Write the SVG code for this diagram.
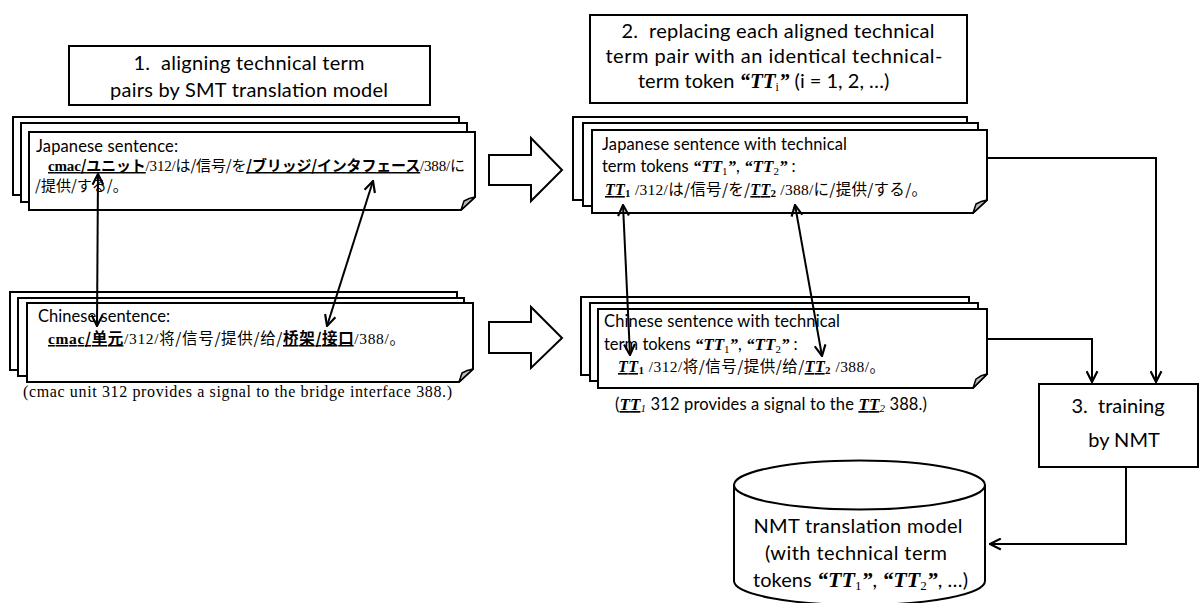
<svg xmlns="http://www.w3.org/2000/svg" width="1203" height="603" viewBox="0 0 1203 603">
  <style>
    .box { fill: #fff; stroke: #000; stroke-width: 2; }
    .pg { fill: #fff; stroke: #000; stroke-width: 2; }
    .fold { fill: #bdbdbd; stroke: #000; stroke-width: 1.5; stroke-linejoin: round; }
    .ln { fill: none; stroke: #000; stroke-width: 2; }
    .blk { fill: #fff; stroke: #000; stroke-width: 2; stroke-linejoin: miter; }
    text { fill: #000; }
    .c { font-family: Lato, 'Liberation Sans', sans-serif; }
    .t { font-family: 'Liberation Serif', serif; }
    .tt { font-family: 'Liberation Serif', serif; font-weight: bold; font-style: italic; }
    .j { font-family: 'Noto Sans CJK JP', sans-serif; }
    .zh { font-family: 'Noto Sans CJK SC', sans-serif; }
    .b { font-weight: bold; }
    .u { text-decoration: underline; }
    .mid { text-anchor: middle; }
  </style>
  <defs>
    <marker id="ah" viewBox="0 0 12 12" refX="11" refY="6" markerWidth="13" markerHeight="13" markerUnits="userSpaceOnUse" orient="auto-start-reverse">
      <path d="M1,1 L11,6 L1,11" fill="none" stroke="#000" stroke-width="2"/>
    </marker>
  </defs>

  <!-- step 1 label -->
  <g id="step1">
    <rect class="box" x="69" y="46" width="361" height="59"/>
    <text class="c mid" x="249" y="70" font-size="20" textLength="231">1.&#160; aligning technical term</text>
    <text class="c mid" x="249" y="97" font-size="20" textLength="278">pairs by SMT translation model</text>
  </g>

  <!-- Japanese source sentences -->
  <g id="ja-source">
    <rect class="pg" x="13" y="117" width="446" height="78"/>
    <rect class="pg" x="21" y="123" width="446" height="79"/>
    <path class="pg" d="M29,132 H475 V197 L461,210 H29 Z"/>
    <path class="fold" d="M461,210 L464,201 Q469,198 475,197 Z"/>
    <text class="c" x="36" y="152" font-size="16.5" textLength="142">Japanese sentence:</text>
    <text x="48" y="171" font-size="15" textLength="417"><tspan class="t b u">cmac</tspan><tspan class="j b u">/ユニット</tspan><tspan class="t">/312/</tspan><tspan class="j">は/信号/を</tspan><tspan class="j b u">/ブリッジ/インタフェース</tspan><tspan class="t">/388/</tspan><tspan class="j">に</tspan></text>
    <text class="j" x="35" y="191" font-size="15">/提供/する/。</text>
  </g>

  <!-- Chinese source sentences -->
  <g id="zh-source">
    <rect class="pg" x="10" y="292" width="447" height="78"/>
    <rect class="pg" x="18" y="298" width="446" height="78"/>
    <path class="pg" d="M27,303 H473 V369 L459,382 H27 Z"/>
    <path class="fold" d="M459,382 L462,373 Q467,370 473,369 Z"/>
    <text class="c" x="38" y="322" font-size="16.5" textLength="132">Chinese sentence:</text>
    <text x="48" y="344" font-size="15.5" textLength="357"><tspan class="t b u">cmac</tspan><tspan class="zh b u">/单元</tspan><tspan class="t">/312/</tspan><tspan class="zh">将/信号/提供/给/</tspan><tspan class="zh b u">桥架/接口</tspan><tspan class="t">/388/</tspan><tspan class="zh">。</tspan></text>
  </g>

  <g id="source-gloss">
    <text class="t" x="23" y="397" font-size="16" textLength="429">(cmac unit 312 provides a signal to the bridge interface 388.)</text>
  </g>

  <!-- block arrows between the stages -->
  <g id="block-arrows">
    <polygon class="blk" points="489,155 531,155 531,138 562,170 531,201 531,185 489,185"/>
    <polygon class="blk" points="489,322 531,322 531,307 562,338 531,368 531,353 489,353"/>
  </g>

  <!-- step 2 label -->
  <g id="step2">
    <rect class="box" x="590" y="15" width="377" height="88"/>
    <text class="c mid" x="778" y="38" font-size="20" textLength="313">2.&#160; replacing each aligned technical</text>
    <text class="c mid" x="774" y="63" font-size="20" textLength="337">term pair with an identical technical-</text>
    <text x="638" y="88" font-size="20"><tspan class="c">term token </tspan><tspan class="tt" font-size="21">“TT</tspan><tspan class="t" font-size="12" dy="3">i</tspan><tspan class="tt" font-size="21" dy="-3">”</tspan><tspan class="c"> (i = 1, 2, …)</tspan></text>
  </g>

  <!-- Japanese sentences with tokens -->
  <g id="ja-tokens">
    <rect class="pg" x="573" y="117" width="394" height="83"/>
    <rect class="pg" x="583" y="123" width="395" height="83"/>
    <path class="pg" d="M592,130 H987 V200 L973,213 H592 Z"/>
    <path class="fold" d="M973,213 L976,204 Q981,201 987,200 Z"/>
    <text class="c" x="602" y="150" font-size="16.5" textLength="245">Japanese sentence with technical</text>
    <text x="602" y="172" font-size="16.5"><tspan class="c">term tokens </tspan><tspan class="tt" font-size="17">“TT</tspan><tspan class="t" font-size="11" dy="3">1</tspan><tspan class="tt" font-size="17" dy="-3">”</tspan><tspan class="c">, </tspan><tspan class="tt" font-size="17">“TT</tspan><tspan class="t" font-size="11" dy="3">2</tspan><tspan class="tt" font-size="17" dy="-3">”</tspan><tspan class="c"> :</tspan></text>
    <text x="605" y="195" font-size="15.5" textLength="322"><tspan class="tt u" font-size="16">TT</tspan><tspan class="t b" font-size="11" dy="2">1</tspan><tspan class="t" dy="-2"> /312/</tspan><tspan class="j">は/信号/を/</tspan><tspan class="tt u" font-size="16">TT</tspan><tspan class="t b" font-size="11" dy="2">2</tspan><tspan class="t" dy="-2"> /388/</tspan><tspan class="j">に/提供/する/。</tspan></text>
  </g>

  <!-- Chinese sentences with tokens -->
  <g id="zh-tokens">
    <rect class="pg" x="581" y="297" width="388" height="78"/>
    <rect class="pg" x="590" y="303" width="388" height="78"/>
    <path class="pg" d="M598,309 H987 V374 L973,388 H598 Z"/>
    <path class="fold" d="M973,388 L976,379 Q981,375 987,374 Z"/>
    <text class="c" x="604" y="327" font-size="16.5" textLength="236">Chinese sentence with technical</text>
    <text x="604" y="350" font-size="16.5"><tspan class="c">term tokens </tspan><tspan class="tt" font-size="17">“TT</tspan><tspan class="t" font-size="11" dy="3">1</tspan><tspan class="tt" font-size="17" dy="-3">”</tspan><tspan class="c">, </tspan><tspan class="tt" font-size="17">“TT</tspan><tspan class="t" font-size="11" dy="3">2</tspan><tspan class="tt" font-size="17" dy="-3">”</tspan><tspan class="c"> :</tspan></text>
    <text x="618" y="372" font-size="15.5" textLength="267"><tspan class="tt u" font-size="16">TT</tspan><tspan class="t b" font-size="11" dy="2">1</tspan><tspan class="t" dy="-2"> /312/</tspan><tspan class="zh">将/信号/提供/给/</tspan><tspan class="tt u" font-size="16">TT</tspan><tspan class="t b" font-size="11" dy="2">2</tspan><tspan class="t" dy="-2"> /388/</tspan><tspan class="zh">。</tspan></text>
  </g>

  <g id="token-gloss">
    <text x="615" y="410" font-size="16.5" textLength="312"><tspan class="c">(</tspan><tspan class="tt u" font-size="17">TT</tspan><tspan class="t" font-style="italic" font-size="11" dy="2">1</tspan><tspan class="c" dy="-2"> 312 provides a signal to the </tspan><tspan class="tt u" font-size="17">TT</tspan><tspan class="t" font-style="italic" font-size="11" dy="2">2</tspan><tspan class="c" dy="-2"> 388.)</tspan></text>
  </g>

  <!-- step 3 -->
  <g id="step3">
    <rect class="box" x="1039" y="384" width="159" height="83"/>
    <text class="c mid" x="1118" y="413" font-size="20">3.&#160; training</text>
    <text class="c mid" x="1124" y="447" font-size="20">by NMT</text>
  </g>

  <!-- resulting model -->
  <g id="nmt-model">
    <path class="box" d="M734,485 V581 A125.5,24 0 0 0 985,581 V485"/>
    <ellipse class="box" cx="859.5" cy="485" rx="125.5" ry="24.5"/>
    <text class="c mid" x="858" y="533" font-size="20" textLength="209">NMT translation model</text>
    <text class="c mid" x="856" y="560" font-size="20" textLength="182">(with technical term</text>
    <text x="753" y="587" font-size="20" textLength="215"><tspan class="c">tokens </tspan><tspan class="tt" font-size="22">“TT</tspan><tspan class="t" font-size="13" dy="3">1</tspan><tspan class="tt" font-size="22" dy="-3">”</tspan><tspan class="c">, </tspan><tspan class="tt" font-size="22">“TT</tspan><tspan class="t" font-size="13" dy="3">2</tspan><tspan class="tt" font-size="22" dy="-3">”</tspan><tspan class="c">, …)</tspan></text>
  </g>

  <!-- connectors -->
  <g id="connectors">
    <line class="ln" x1="98" y1="174" x2="97" y2="326" marker-start="url(#ah)" marker-end="url(#ah)"/>
    <line class="ln" x1="373" y1="181" x2="327" y2="326" marker-start="url(#ah)" marker-end="url(#ah)"/>
    <line class="ln" x1="623" y1="205" x2="630" y2="355" marker-start="url(#ah)" marker-end="url(#ah)"/>
    <line class="ln" x1="795" y1="205" x2="822" y2="356" marker-start="url(#ah)" marker-end="url(#ah)"/>
    <path class="ln" d="M987,158 H1156 V382" marker-end="url(#ah)"/>
    <path class="ln" d="M987,339 H1092 V382" marker-end="url(#ah)"/>
    <path class="ln" d="M1126,467 V544 H990" marker-end="url(#ah)"/>
  </g>
</svg>
